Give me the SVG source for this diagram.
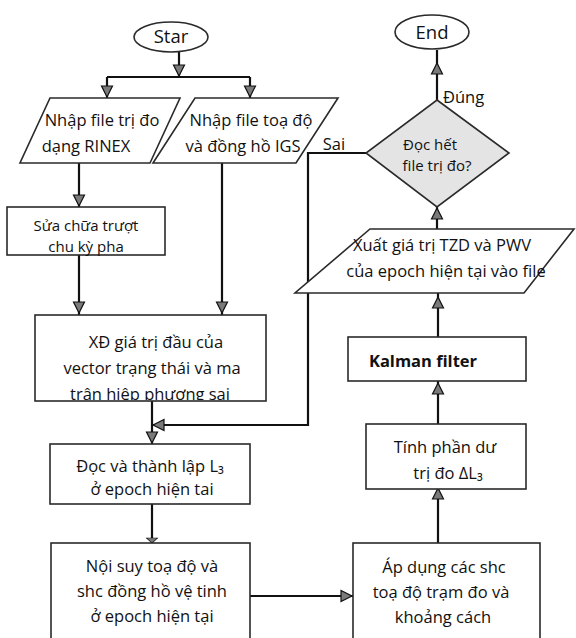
<svg xmlns="http://www.w3.org/2000/svg" xmlns:xlink="http://www.w3.org/1999/xlink" width="576" height="638" viewBox="0 0 576 638">
<style>
.n{fill:#fff;stroke:#2a2a2a;stroke-width:1.6}
.dm{fill:#e4e4e4;stroke:#2a2a2a;stroke-width:1.6}
.t{font-family:"Open Sans","Noto Sans","DejaVu Sans",sans-serif;font-size:16.5px;fill:#111;text-anchor:middle}
.sm{font-size:15px}
.big{font-size:18.5px}
.b{font-weight:bold}
.s{text-anchor:start}
.c{fill:none;stroke:#111;stroke-width:2.2}
.ah{fill:#7a7a7a;stroke:#111;stroke-width:1.2;stroke-linejoin:miter}
</style>
<defs>
<path id="ah" class="ah" d="M0,0 L-5.5,-11 L5.5,-11 Z"/>
<clipPath id="clipXD"><rect x="35" y="315" width="231" height="85"/></clipPath>
</defs>
<rect width="576" height="638" fill="#fff"/>

<g id="connectors">
<path class="c" d="M179,52 V77"/>
<path class="c" d="M107,77 H250"/>
<path class="c" d="M107,77 V98"/>
<path class="c" d="M250,77 V98"/>
<path class="c" d="M79,163 V207"/>
<path class="c" d="M79,255 V315"/>
<path class="c" d="M222,163 V315"/>
<path class="c" d="M152,401 V444"/>
<path class="c" d="M366,153 H308 V425 H152"/>
<path class="c" d="M152,504 V543"/>
<path class="c" d="M250,596 H353"/>
<path class="c" d="M438,543 V489"/>
<path class="c" d="M438,424 V381"/>
<path class="c" d="M438,337 V293"/>
<path class="c" d="M437,229 V207"/>
<path class="c" d="M437,100 V50"/>
<use xlink:href="#ah" transform="translate(179,76)"/>
<use xlink:href="#ah" transform="translate(107,97)"/>
<use xlink:href="#ah" transform="translate(250,97)"/>
<use xlink:href="#ah" transform="translate(79,206)"/>
<use xlink:href="#ah" transform="translate(79,313)"/>
<use xlink:href="#ah" transform="translate(222,313)"/>
<use xlink:href="#ah" transform="translate(152,443)"/>
<use xlink:href="#ah" transform="translate(153,425) rotate(90)"/>
<use xlink:href="#ah" transform="translate(152,543) scale(1,0.45)"/>
<use xlink:href="#ah" transform="translate(352,596) rotate(-90)"/>
<use xlink:href="#ah" transform="translate(438,488) rotate(180)"/>
<use xlink:href="#ah" transform="translate(438,383) rotate(180)"/>
<use xlink:href="#ah" transform="translate(438,297) rotate(180)"/>
<use xlink:href="#ah" transform="translate(437,208) rotate(180)"/>
<use xlink:href="#ah" transform="translate(437,63) rotate(180)"/>
<text class="t" x="334" y="150">Sai</text>
<text class="t s" x="443" y="103">Đúng</text>
</g>

<g id="start">
<ellipse class="n" cx="171" cy="37" rx="37" ry="15"/>
<text class="t big" x="171" y="43">Star</text>
</g>

<g id="end">
<ellipse class="n" cx="432" cy="32" rx="37" ry="17"/>
<text class="t big" x="432" y="39">End</text>
</g>

<g id="input-rinex">
<polygon class="n" points="50,98 180,98 150,163 20,163"/>
<text class="t" x="102" y="126">Nhập file trị đo</text>
<text class="t" x="86" y="152">dạng RINEX</text>
</g>

<g id="input-igs">
<polygon class="n" points="195,98 338,98 296,163 153,163"/>
<text class="t" x="251" y="126">Nhập file toạ độ</text>
<text class="t" x="243" y="152">và đồng hồ IGS</text>
</g>

<g id="cycle-slip">
<rect class="n" x="7" y="207" width="158" height="48"/>
<text class="t sm" x="86" y="231">Sửa chữa trượt</text>
<text class="t sm" x="86" y="252">chu kỳ pha</text>
</g>

<g id="init-state">
<rect class="n" x="35" y="315" width="231" height="86"/>
<g clip-path="url(#clipXD)">
<text class="t" x="156" y="348">XĐ giá trị đầu của</text>
<text class="t" x="152" y="374">vector trạng thái và ma</text>
<text class="t" x="150" y="400">trận hiệp phương sai</text>
</g>
</g>

<g id="read-l3">
<rect class="n" x="50" y="444" width="200" height="60"/>
<text class="t" x="150" y="472">Đọc và thành lập L₃</text>
<text class="t" x="152" y="495">ở epoch hiện tai</text>
</g>

<g id="interp">
<rect class="n" x="51" y="543" width="199" height="99"/>
<text class="t" x="152" y="572">Nội suy toạ độ và</text>
<text class="t" x="152" y="597">shc đồng hồ vệ tinh</text>
<text class="t" x="152" y="622">ở epoch hiện tại</text>
</g>

<g id="apply">
<rect class="n" x="353" y="543" width="187" height="99"/>
<text class="t" x="444" y="573">Áp dụng các shc</text>
<text class="t" x="441" y="598">toạ độ trạm đo và</text>
<text class="t" x="443" y="623">khoảng cách</text>
</g>

<g id="residual">
<rect class="n" x="366" y="424" width="160" height="65"/>
<text class="t" x="445" y="453">Tính phần dư</text>
<text class="t" x="448" y="479">trị đo ΔL₃</text>
</g>

<g id="kalman">
<rect class="n" x="348" y="337" width="178" height="44"/>
<text class="t b" x="423" y="367">Kalman filter</text>
</g>

<g id="output">
<polygon class="n" points="370,229 574,229 524,293 295,293"/>
<text class="t" x="442" y="251">Xuất giá trị TZD và PWV</text>
<text class="t" x="446" y="277">của epoch hiện tại vào file</text>
</g>

<g id="decision">
<polygon class="dm" points="437,100 509,153 437,207 366,153"/>
<text class="t sm" x="430" y="150">Đọc hết</text>
<text class="t sm" x="437" y="171">file trị đo?</text>
</g>
</svg>
